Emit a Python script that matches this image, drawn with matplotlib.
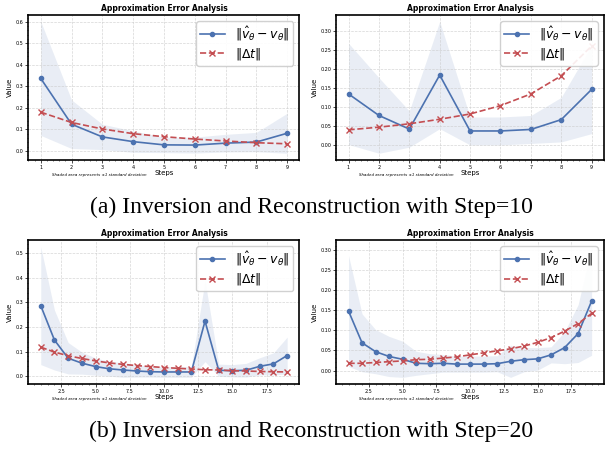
import numpy as np
import matplotlib
matplotlib.use('Agg')
import matplotlib.pyplot as plt
from matplotlib.ticker import AutoMinorLocator

# Step=10 runs
steps_10 = [1, 2, 3, 4, 5, 6, 7, 8, 9]
err_10a = [0.337, 0.124, 0.065, 0.043, 0.028, 0.027, 0.036, 0.041, 0.082]
std_10a = [0.265, 0.113, 0.059, 0.050, 0.036, 0.037, 0.041, 0.045, 0.093]
dt_10a = [0.180, 0.132, 0.102, 0.080, 0.066, 0.055, 0.046, 0.038, 0.033]

err_10b = [0.134, 0.077, 0.041, 0.184, 0.036, 0.036, 0.040, 0.066, 0.146]
std_10b = [0.134, 0.100, 0.048, 0.142, 0.037, 0.037, 0.037, 0.059, 0.117]
dt_10b = [0.039, 0.046, 0.055, 0.067, 0.081, 0.103, 0.134, 0.182, 0.261]

# Step=20 runs
steps_20 = list(range(1, 20))
err_20a = [0.287, 0.147, 0.073, 0.053, 0.039, 0.030, 0.025, 0.021, 0.018, 0.017,
           0.017, 0.017, 0.224, 0.024, 0.022, 0.024, 0.040, 0.050, 0.084]
std_20a = [0.240, 0.122, 0.064, 0.045, 0.035, 0.030, 0.030, 0.025, 0.022, 0.022,
           0.022, 0.022, 0.165, 0.025, 0.025, 0.028, 0.035, 0.045, 0.075]
dt_20a = [0.118, 0.098, 0.083, 0.072, 0.062, 0.054, 0.048, 0.043, 0.039, 0.035,
          0.032, 0.029, 0.026, 0.025, 0.022, 0.021, 0.019, 0.018, 0.017]

err_20b = [0.148, 0.069, 0.047, 0.035, 0.028, 0.018, 0.017, 0.018, 0.016, 0.016,
           0.016, 0.017, 0.023, 0.027, 0.029, 0.039, 0.057, 0.092, 0.173]
std_20b = [0.138, 0.072, 0.055, 0.050, 0.045, 0.030, 0.025, 0.022, 0.020, 0.020,
           0.020, 0.020, 0.040, 0.030, 0.028, 0.020, 0.040, 0.072, 0.135]
dt_20b = [0.018, 0.018, 0.020, 0.022, 0.024, 0.027, 0.028, 0.031, 0.034, 0.039,
          0.044, 0.049, 0.054, 0.061, 0.070, 0.082, 0.098, 0.117, 0.142]

captions = ['(a) Inversion and Reconstruction with Step=10',
            '(b) Inversion and Reconstruction with Step=20']

BLUE = '#4C72B0'
RED = '#C44E52'


def draw_panel(ax, x, err, std, dt):
    x = np.array(x)
    err, std = np.array(err), np.array(std)
    ax.fill_between(x, err - std, err + std, color=BLUE, alpha=0.12, lw=0)
    ax.plot(x, err, '-o', color=BLUE, lw=1.2, ms=3, label=r'$\|\hat{v}_\theta - v_\theta\|$')
    ax.plot(x, dt, '--x', color=RED, lw=1.2, ms=4, mew=1.0, label=r'$\|\Delta t\|$')
    ax.set_title('Approximation Error Analysis', fontsize=5.5, fontweight='bold', pad=3)
    ax.set_xlabel('Steps', fontsize=5, labelpad=0)
    ax.set_ylabel('Value', fontsize=5, labelpad=2)
    ax.grid(True, ls='--', lw=0.5, color='#cccccc', alpha=0.8)
    ax.xaxis.set_minor_locator(AutoMinorLocator())
    ax.yaxis.set_minor_locator(AutoMinorLocator())
    ax.tick_params(axis='both', which='major', labelsize=3.5, length=2, width=0.5, pad=1.5)
    ax.tick_params(axis='both', which='minor', length=1, width=0.4)
    for s in ax.spines.values():
        s.set_linewidth(1.2)
        s.set_color('black')
    ax.legend(loc='upper right', fontsize=9, handlelength=2.0, borderpad=0.3,
              labelspacing=0.25, handletextpad=0.8, framealpha=0.9, edgecolor='#cccccc')
    ax.text(0.26, -0.105, 'Shaded area represents \u00b11 standard deviation',
            transform=ax.transAxes, fontsize=2.9, style='italic', ha='center', va='center')


fig = plt.figure(figsize=(6.05, 4.49), dpi=100)

pos = [[0.047, 0.644, 0.448, 0.323], [0.556, 0.644, 0.442, 0.323],
       [0.047, 0.145, 0.448, 0.320], [0.556, 0.145, 0.442, 0.320]]
data = [(steps_10, err_10a, std_10a, dt_10a), (steps_10, err_10b, std_10b, dt_10b),
        (steps_20, err_20a, std_20a, dt_20a), (steps_20, err_20b, std_20b, dt_20b)]

for p, d in zip(pos, data):
    ax = fig.add_axes(p)
    draw_panel(ax, *d)

fig.text(0.514, 1 - 207 / 449, captions[0], fontsize=17, family='Liberation Serif',
         ha='center', va='center')
fig.text(0.514, 1 - 431 / 449, captions[1], fontsize=17, family='Liberation Serif',
         ha='center', va='center')

fig.savefig('out.png', dpi=100)
